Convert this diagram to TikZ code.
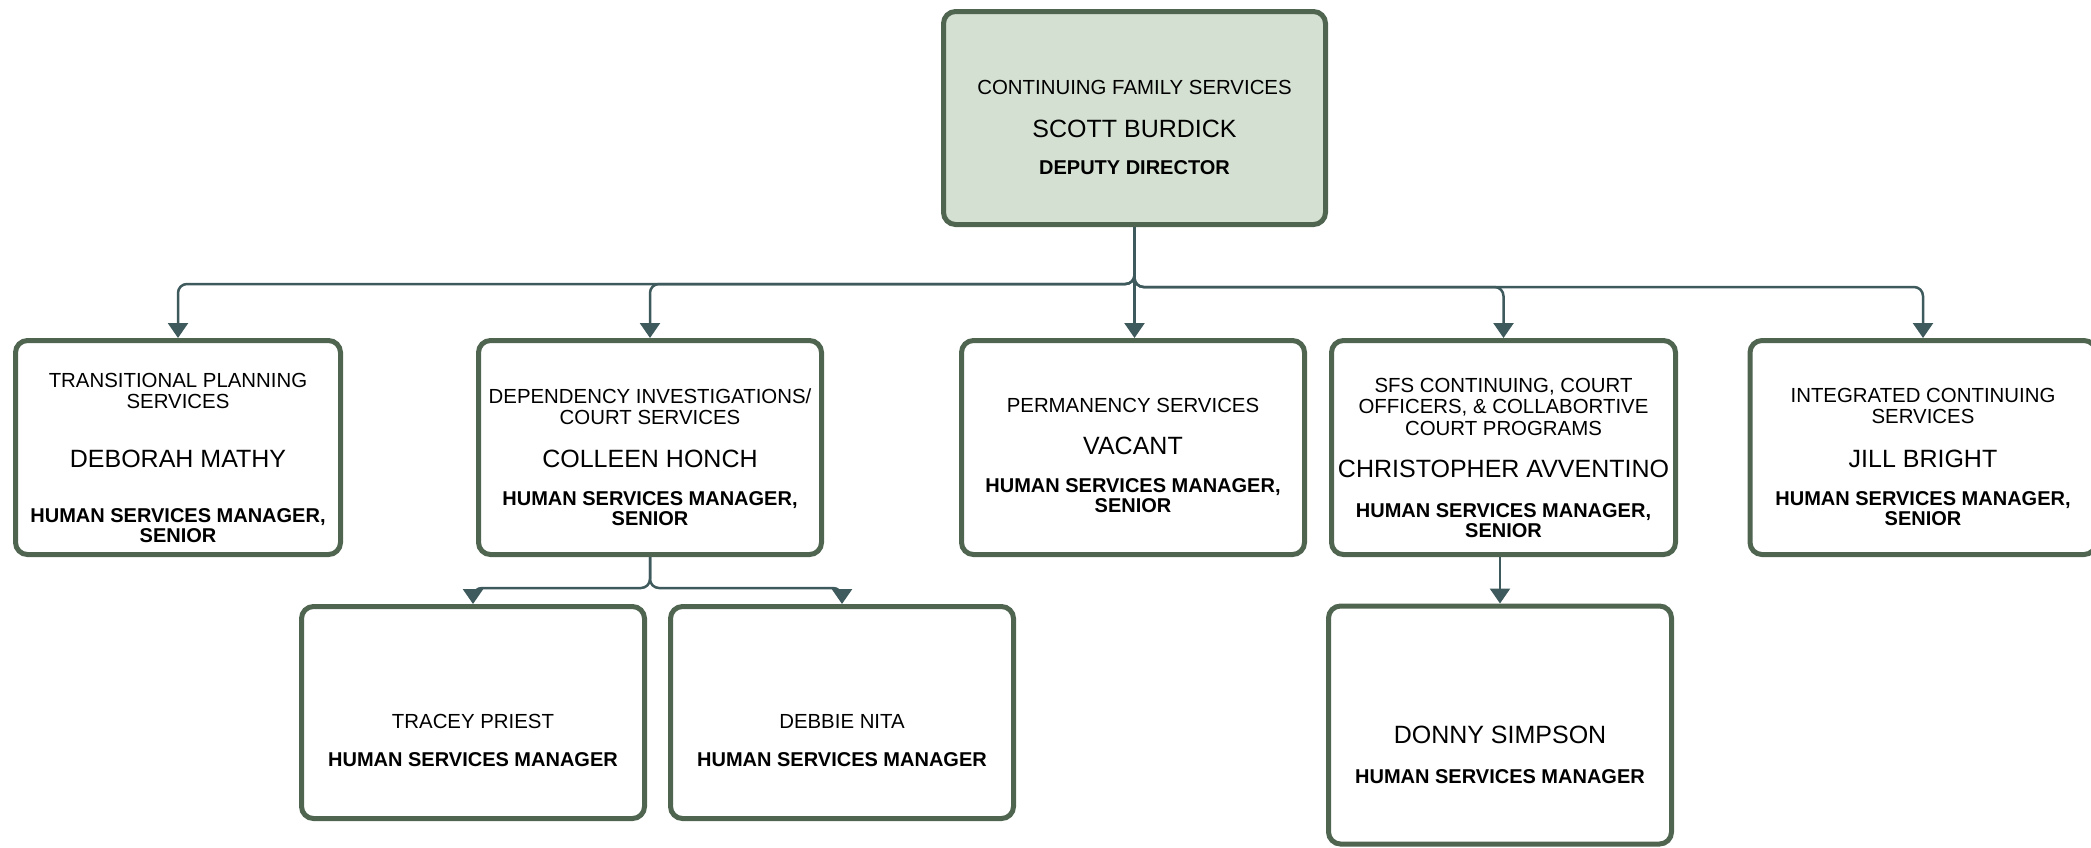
\documentclass[tikz,border=0pt]{standalone}
\usepackage{fontspec}
\setmainfont{Liberation Sans}
\usetikzlibrary{arrows.meta}
\definecolor{boxc}{HTML}{4F6550}
\definecolor{topfill}{HTML}{D4E0D2}
\definecolor{linec}{HTML}{3E5A5C}
\newcommand\fsm{\fontsize{20.4}{21}\selectfont}
\newcommand\fnm{\fontsize{25}{26}\selectfont}
\newcommand\fbd{\bfseries\fontsize{20}{20}\selectfont}
\tikzset{
  box/.style={draw=boxc, line width=5pt, rounded corners=12pt, fill=white, inner sep=0pt},
  conn/.style={draw=linec, line width=2.5pt, rounded corners=9pt, -{Triangle[width=20pt,length=15pt]}},
  sm/.style={anchor=base, inner sep=0pt, font=\fsm},
  nm/.style={anchor=base, inner sep=0pt, font=\fnm},
  bd/.style={anchor=base, inner sep=0pt, font=\fbd}
}
\begin{document}
\begin{tikzpicture}[x=1pt,y=-1pt]
\useasboundingbox (0,0) rectangle (2091,847);
% boxes
\node[box, fill=topfill, minimum width=382, minimum height=213] (top) at (1134.5,118) {};
\node[box, minimum width=325, minimum height=214] (b1) at (178,447.5) {};
\node[box, minimum width=343, minimum height=214] (b2) at (650,447.5) {};
\node[box, minimum width=343, minimum height=214] (b3) at (1133,447.5) {};
\node[box, minimum width=344, minimum height=214] (b4) at (1503.5,447.5) {};
\node[box, minimum width=346, minimum height=214] (b5) at (1923,447.5) {};
\node[box, minimum width=343, minimum height=212] (t1) at (473,712.5) {};
\node[box, minimum width=343, minimum height=212] (t2) at (842,712.5) {};
\node[box, minimum width=343, minimum height=238] (d3) at (1500,725) {};
% texts
\node[sm] (topa) at (1134.5,94) {CONTINUING FAMILY SERVICES};
\node[nm] (topb) at (1134.5,137) {SCOTT BURDICK};
\node[bd] (topc) at (1134.5,174) {DEPUTY DIRECTOR};

\node[sm] (b1a) at (178,387) {TRANSITIONAL PLANNING};
\node[sm] (b1b) at (178,408) {SERVICES};
\node[nm] (b1c) at (178,467) {DEBORAH MATHY};
\node[bd] (b1d) at (178,522) {HUMAN SERVICES MANAGER,};
\node[bd] (b1e) at (178,542) {SENIOR};

\node[sm] (b2a) at (650,403) {DEPENDENCY INVESTIGATIONS/};
\node[sm] (b2b) at (650,424) {COURT SERVICES};
\node[nm] (b2c) at (650,467) {COLLEEN HONCH};
\node[bd] (b2d) at (650,505) {HUMAN SERVICES MANAGER,};
\node[bd] (b2e) at (650,525) {SENIOR};

\node[sm] (b3a) at (1133,412) {PERMANENCY SERVICES};
\node[nm] (b3b) at (1133,454) {VACANT};
\node[bd] (b3c) at (1133,492) {HUMAN SERVICES MANAGER,};
\node[bd] (b3d) at (1133,512) {SENIOR};

\node[sm] (b4a) at (1503.5,392) {SFS CONTINUING, COURT};
\node[sm] (b4b) at (1503.5,413) {OFFICERS, \& COLLABORTIVE};
\node[sm] (b4c) at (1503.5,435) {COURT PROGRAMS};
\node[nm] (b4d) at (1503.5,477) {CHRISTOPHER AVVENTINO};
\node[bd] (b4e) at (1503.5,517) {HUMAN SERVICES MANAGER,};
\node[bd] (b4f) at (1503.5,537) {SENIOR};

\node[sm] (b5a) at (1923,402) {INTEGRATED CONTINUING};
\node[sm] (b5b) at (1923,423) {SERVICES};
\node[nm] (b5c) at (1923,467) {JILL BRIGHT};
\node[bd] (b5d) at (1923,505) {HUMAN SERVICES MANAGER,};
\node[bd] (b5e) at (1923,525) {SENIOR};

\node[sm] (t1a) at (473,728) {TRACEY PRIEST};
\node[bd] (t1b) at (473,766) {HUMAN SERVICES MANAGER};
\node[sm] (t2a) at (842,728) {DEBBIE NITA};
\node[bd] (t2b) at (842,766) {HUMAN SERVICES MANAGER};
\node[nm] (d3a) at (1500,743) {DONNY SIMPSON};
\node[bd] (d3b) at (1500,783) {HUMAN SERVICES MANAGER};
% connectors
\coordinate (busL) at (0,284);
\coordinate (busR) at (0,287);
\coordinate (bus2) at (0,588);
\draw[conn] (top.south) |- (b1.north |- busL) -- (b1.north);
\draw[conn] (top.south) |- (b2.north |- busL) -- (b2.north);
\draw[conn] (top.south) -- (top.south |- b3.north);
\draw[conn] (top.south) |- (b4.north |- busR) -- (b4.north);
\draw[conn] (top.south) |- (b5.north |- busR) -- (b5.north);
\draw[conn] (b2.south) |- (t1.north |- bus2) -- (t1.north);
\draw[conn] (b2.south) |- (t2.north |- bus2) -- (t2.north);
\draw[conn] (d3.north |- b4.south) -- (d3.north);
\end{tikzpicture}
\end{document}
